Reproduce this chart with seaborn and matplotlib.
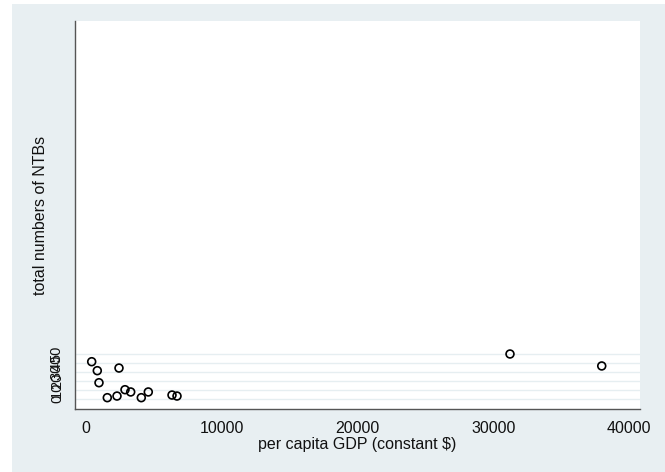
import matplotlib
matplotlib.use("Agg")
import matplotlib.pyplot as plt
import seaborn as sns
import pandas as pd
from matplotlib.patches import Rectangle

gdp = [405, 818, 943, 1555, 2270, 2417, 2859, 3279, 4060, 4576, 6323, 6692, 31230, 37990]
ntbs = [41.5, 31.6, 18.3, 1.8, 3.6, 34.5, 10.6, 8.1, 1.8, 8.1, 4.7, 3.6, 50, 36.8]
x_ticks = [0, 10000, 20000, 30000, 40000]
y_ticks = [0, 10, 20, 30, 40, 50]

df = pd.DataFrame({"gdp": gdp, "ntbs": ntbs})

sns.set_style("white")
plt.rcParams['font.family'] = ['Liberation Sans', 'DejaVu Sans']

W, H = 665, 472
fig = plt.figure(figsize=(W / 100, H / 100), dpi=100, facecolor="white")
bg = "#e8eff2"
fig.patches.append(Rectangle((12 / W, 0), 1 - 12 / W, 1 - 4 / H, transform=fig.transFigure,
                             facecolor=bg, edgecolor="none", zorder=-10))

ax = fig.add_axes([75 / W, (H - 409) / H, (640 - 75) / W, (409 - 21) / H])
ax.set_zorder(1)
ax.set_facecolor("white")

for yt in y_ticks:
    ax.axhline(yt, color="#e6eef1", lw=1.0, zorder=0)

sns.scatterplot(data=df, x="gdp", y="ntbs", ax=ax, marker="o", s=32,
                facecolor="none", edgecolor="black", linewidth=1.2, zorder=3)

ax.set_xlim(-825, 40810)
ax.set_ylim(-10.7, 417.5)
ax.set_xticks(x_ticks)
ax.set_xticklabels([str(v) for v in x_ticks])
ax.set_yticks(y_ticks)
ax.set_yticklabels([str(v) for v in y_ticks], rotation=90, va="center")

for s in ["top", "right"]:
    ax.spines[s].set_visible(False)
for s in ["left", "bottom"]:
    ax.spines[s].set_color("#555555")
    ax.spines[s].set_linewidth(1.0)

ax.tick_params(axis="x", direction="out", length=4.3, width=1.0, color="#555555",
               labelsize=11.5, labelcolor="#111111", pad=4)
ax.tick_params(axis="y", direction="out", length=4.0, width=1.0, color="#555555",
               labelsize=10.5, labelcolor="#111111", pad=4)

ax.set_xlabel("per capita GDP (constant $)", fontsize=11.5, color="#111111", labelpad=1)
ax.set_ylabel("total numbers of NTBs", fontsize=11.5, color="#111111", labelpad=1)

fig.savefig("out.png", dpi=100, facecolor="white")
